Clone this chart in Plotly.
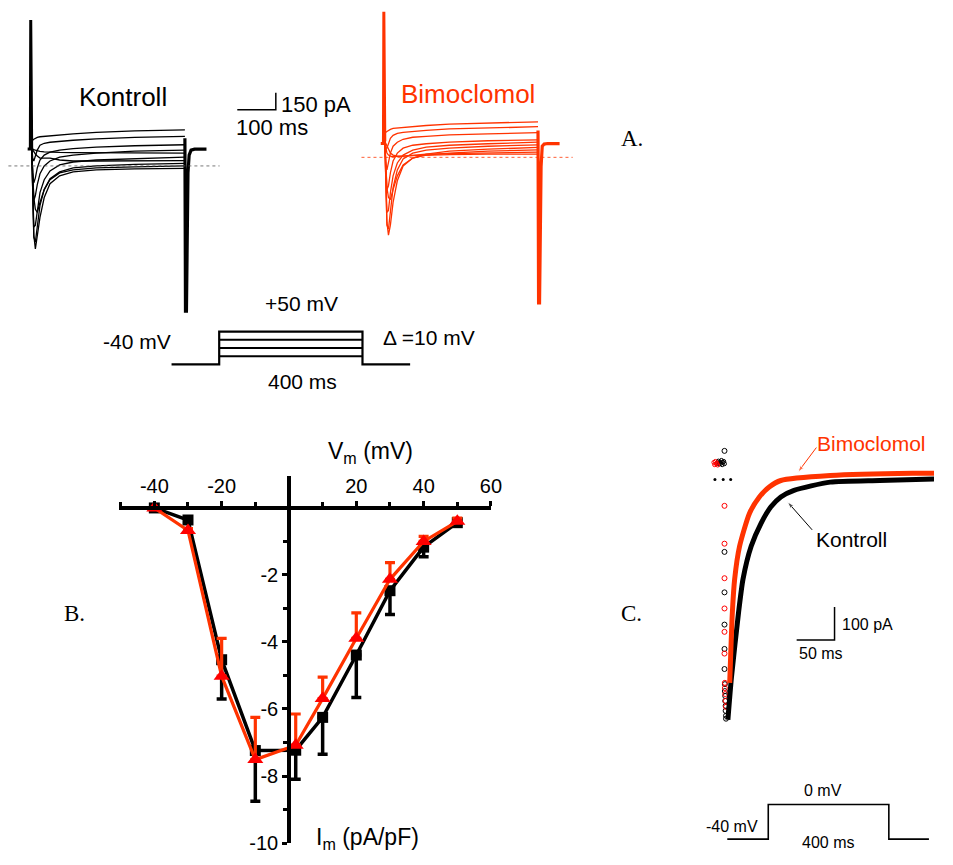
import plotly.graph_objects as go

# page is 953x865; the default body margin (8px) surrounds the figure
PAGE_W, PAGE_H = 953, 865
OFF = 8
W, H = PAGE_W - 2 * OFF, PAGE_H - 2 * OFF

# ---------------- Panel B: I-V relation ----------------
V_mV = [-40, -30, -20, -10, 2, 10, 20, 30, 40, 50]
I_kontroll = [0.0, -0.36, -4.53, -7.24, -7.23, -6.25, -4.39, -2.47, -1.17, -0.44]
I_kontroll_sem = [0.0, 0.05, 1.17, 1.51, 0.87, 1.10, 1.27, 0.71, 0.29, 0.05]
I_bimo = [0.0, -0.67, -5.02, -7.51, -7.08, -5.69, -3.89, -2.13, -1.00, -0.40]
I_bimo_sem = [0.0, 0.05, 1.13, 1.26, 0.93, 0.64, 0.76, 0.50, 0.15, 0.10]
B_xtick_vals = [-40, -20, 20, 40, 60]
B_xtick_text = ["-40", "-20", "20", "40", "60"]
B_xminor_vals = [-50, -30, -10, 0, 10, 30, 50]
B_ytick_vals = [-2, -4, -6, -8, -10]
B_ytick_text = ["-2", "-4", "-6", "-8", "-10"]
B_yminor_vals = [-1, -3, -5, -7, -9]

# ---------------- Panel A: current traces (ms, pA) ----------------
step_mV = [-40, -30, -20, -10, 0, 10, 20, 30, 40, 50]
tA_ms = [2.5, 5, 8, 12, 17, 24, 35, 50, 75, 110, 170, 270, 400]
kontroll_pA = [
    [158, 150, 145, 140, 135, 130, 126, 123, 120, 118, 116, 115, 114],
    [158, 141, 123, 106, 88, 70, 70, 70, 53, 44, 44, 48, 48],
    [158, -106, -282, -387, -414, -326, -211, -123, -62, -35, -18, -9, 0],
    [158, -282, -616, -739, -634, -458, -282, -158, -88, -53, -35, -26, -22],
    [158, -326, -634, -678, -528, -352, -211, -114, -53, -18, 0, 13, 22],
    [158, -282, -546, -528, -387, -238, -123, -44, 9, 35, 53, 66, 79],
    [158, -150, -308, -264, -167, -70, 0, 44, 79, 97, 114, 132, 141],
    [176, -62, -150, -106, -18, 53, 97, 123, 141, 154, 167, 180, 189],
    [202, 70, 44, 88, 141, 185, 202, 211, 220, 229, 242, 255, 264],
    [246, 229, 238, 246, 255, 260, 264, 268, 277, 286, 299, 312, 321],
]
bimo_pA = [
    [143, 82, 38, 20, 11, 7, 7, 11, 16, 20, 25, 29, 29],
    [143, 126, 99, 64, 38, 20, 11, 11, 20, 29, 33, 38, 47],
    [143, -94, -270, -358, -376, -288, -165, -68, -6, 20, 38, 55, 67],
    [143, -270, -578, -693, -605, -402, -209, -77, -6, 29, 55, 73, 88],
    [143, -314, -605, -640, -464, -270, -112, -15, 38, 64, 82, 99, 111],
    [143, -270, -490, -473, -314, -165, -50, 20, 64, 91, 108, 121, 135],
    [152, -138, -288, -253, -138, -33, 38, 82, 108, 121, 135, 148, 155],
    [170, -50, -112, -50, 38, 99, 135, 161, 179, 187, 201, 209, 220],
    [187, 82, 82, 126, 170, 196, 214, 223, 231, 240, 253, 262, 273],
    [240, 223, 231, 240, 249, 258, 262, 267, 275, 284, 297, 306, 317],
]
spike_t_ms = [-8, -1, 0, 0.8, 1.6, 2.5]
kontroll_spike_pA = [150, 150, 1302, 700, 300, 158]
bimo_spike_pA = [123, 123, 1299, 700, 300, 143]
tail_t_ms = [400, 401.5, 404, 406, 408, 411, 416, 425, 456]
kontroll_tail_pA = [246, -1294, -1294, -546, -62, 97, 141, 150, 150]
bimo_tail_pA = [240, -1297, -1297, -560, -80, 100, 118, 123, 123]
zeroA_t_ms = [-58, 490]
zero_pA = [0, 0]
scaleA_ms, scaleA_pA = 100, 150

# voltage protocol A (schematic)
protoA_t = [-133, 0, 0, 400, 400, 533]
protoA_mV = [-40, -40, 50, 50, -40, -40]
protoA_inner_mV = [-17.5, 5, 27.5]

# ---------------- Panel C: normalised traces ----------------
tC_kontroll = [4.5, 9.1, 18.6, 24.4, 35.2, 48.2, 61.3, 74.3, 91.7, 139.5, 204.7, 287]
IC_kontroll = [-730, -603, -403, -303, -203, -133, -83, -53, -33, -8, -3, 2]
tC_bimo = [6.9, 10.4, 13.4, 19.9, 32.9, 46, 59, 74.3, 139.5, 248, 287]
IC_bimo = [-618, -403, -303, -203, -103, -53, -23, -3, 12, 19, 19]
k_open_t = [0, 0, 0, 0, 0, 0, 0.5, 0.5, 1, 1, 1.5, 1.5, 2, 2]
k_open_I = [87, -220, -343, -441, -515, -576, -622, -643, -658, -673, -688, -703, -718, -727]
b_open_t = [0, 0, 0, 0, 0, 0, 0.5, 0.5, 1, 1.5, 2]
b_open_I = [-80, -195, -300, -392, -463, -529, -618, -634, -652, -673, -691]
k_pre_t = [-9, -8, -7, -6, -5, -4, -3, -2, -1, 0]
k_pre_I = [50, 56, 47, 53, 49, 58, 45, 52, 55, 48]
b_pre_t = [-14, -13, -12, -11, -10, -9]
b_pre_I = [52, 45, 55, 48, 50, 44]
zeroC_t = [-12.6, -1.7, 8.2]
zeroC_I = [0, 0, 0]
scaleC_ms, scaleC_pA = 50, 100
protoC_t = [-136, 0, 0, 400, 400, 533]
protoC_mV = [-40, -40, 0, 0, -40, -40]

BLACK = "#000000"
RED_LINE = "#FF3300"
RED_MARK = "#FF0000"
SANS = "Liberation Sans, Arial, sans-serif"
SERIF = "Liberation Serif, Times New Roman, serif"


# page-pixel -> paper helpers
def px(x):
    return (x - OFF) / W


def py(y):
    return 1 - (y - OFF) / H


def cx(a):
    return min(max(a, OFF), OFF + W)


def cy(a):
    return min(max(a, OFF), OFF + H)


def xaxis_box(a, b, origin, ppu):
    a, b = cx(a), cx(b)
    return dict(domain=[px(a), px(b)], range=[(a - origin) / ppu, (b - origin) / ppu])


def yaxis_box(top, bottom, origin, ppu):
    top, bottom = cy(top), cy(bottom)
    return dict(domain=[py(bottom), py(top)],
                range=[(origin - bottom) / ppu, (origin - top) / ppu])


# panel C pixel -> data helpers (for label arrows only)
def c_t(xp):
    return (xp - 733) / 0.767


def c_i(yp):
    return (485.7 - yp) * 3


fig = go.Figure()

# ---- Panel A black (axes 2)
for i, v in enumerate(step_mV):
    fig.add_trace(go.Scatter(x=tA_ms, y=kontroll_pA[i], mode="lines",
                             line=dict(color=BLACK, width=1.3), xaxis="x2", yaxis="y2"))
fig.add_trace(go.Scatter(x=spike_t_ms, y=kontroll_spike_pA, mode="lines",
                         line=dict(color=BLACK, width=3), xaxis="x2", yaxis="y2"))
fig.add_trace(go.Scatter(x=tail_t_ms, y=kontroll_tail_pA, mode="lines",
                         line=dict(color=BLACK, width=3.2), xaxis="x2", yaxis="y2"))
fig.add_trace(go.Scatter(x=zeroA_t_ms, y=zero_pA, mode="lines",
                         line=dict(color="#555555", width=0.8, dash="dot"), xaxis="x2", yaxis="y2"))
# scale bar A
sbx0 = 535.9
sby0 = 501.6
fig.add_trace(go.Scatter(x=[sbx0, sbx0 + scaleA_ms, sbx0 + scaleA_ms],
                         y=[sby0, sby0, sby0 + scaleA_pA], mode="lines",
                         line=dict(color=BLACK, width=1.5), xaxis="x2", yaxis="y2"))

# ---- Panel A red (axes 3)
for i, v in enumerate(step_mV):
    fig.add_trace(go.Scatter(x=tA_ms, y=bimo_pA[i], mode="lines",
                             line=dict(color=RED_LINE, width=1.3), xaxis="x3", yaxis="y3"))
fig.add_trace(go.Scatter(x=spike_t_ms, y=bimo_spike_pA, mode="lines",
                         line=dict(color=RED_LINE, width=3), xaxis="x3", yaxis="y3"))
fig.add_trace(go.Scatter(x=tail_t_ms, y=bimo_tail_pA, mode="lines",
                         line=dict(color=RED_LINE, width=3.2), xaxis="x3", yaxis="y3"))
fig.add_trace(go.Scatter(x=zeroA_t_ms, y=zero_pA, mode="lines",
                         line=dict(color=RED_LINE, width=0.8, dash="dot"), xaxis="x3", yaxis="y3"))

# ---- Protocol A (axes 4)
fig.add_trace(go.Scatter(x=protoA_t, y=protoA_mV, mode="lines",
                         line=dict(color=BLACK, width=2.2), xaxis="x4", yaxis="y4"))
for lv in protoA_inner_mV:
    fig.add_trace(go.Scatter(x=[0, 400], y=[lv, lv], mode="lines",
                             line=dict(color=BLACK, width=2), xaxis="x4", yaxis="y4"))

# ---- Panel B (axes 1)
fig.add_trace(go.Scatter(
    x=V_mV, y=I_kontroll, mode="lines+markers", cliponaxis=False,
    line=dict(color=BLACK, width=3.5),
    marker=dict(symbol="square", size=11, color=BLACK),
    error_y=dict(type="data", symmetric=False, array=[0] * len(V_mV),
                 arrayminus=I_kontroll_sem, color=BLACK, thickness=3.5, width=5)))
fig.add_trace(go.Scatter(
    x=V_mV, y=I_bimo, mode="lines+markers", cliponaxis=False,
    line=dict(color=RED_LINE, width=3.2),
    marker=dict(symbol="triangle-up", size=14, color=RED_MARK),
    error_y=dict(type="data", symmetric=False, array=I_bimo_sem,
                 arrayminus=[0] * len(V_mV), color=RED_LINE, thickness=3.2, width=5)))

# ---- Panel C (axes 5)
fig.add_trace(go.Scatter(x=k_pre_t, y=k_pre_I, mode="markers",
                         marker=dict(symbol="circle-open", size=4, color=BLACK, line=dict(width=1)),
                         xaxis="x5", yaxis="y5"))
fig.add_trace(go.Scatter(x=b_pre_t, y=b_pre_I, mode="markers",
                         marker=dict(symbol="circle-open", size=4, color=RED_MARK, line=dict(width=1)),
                         xaxis="x5", yaxis="y5"))
fig.add_trace(go.Scatter(x=zeroC_t, y=zeroC_I, mode="markers",
                         marker=dict(symbol="circle", size=3, color=BLACK),
                         xaxis="x5", yaxis="y5"))
fig.add_trace(go.Scatter(x=k_open_t, y=k_open_I, mode="markers",
                         marker=dict(symbol="circle-open", size=5, color=BLACK, line=dict(width=1)),
                         xaxis="x5", yaxis="y5"))
fig.add_trace(go.Scatter(x=b_open_t, y=b_open_I, mode="markers",
                         marker=dict(symbol="circle-open", size=5, color=RED_MARK, line=dict(width=1)),
                         xaxis="x5", yaxis="y5"))
fig.add_trace(go.Scatter(x=tC_kontroll, y=IC_kontroll, mode="lines",
                         line=dict(color=BLACK, width=5, shape="spline", smoothing=0.6),
                         xaxis="x5", yaxis="y5"))
fig.add_trace(go.Scatter(x=tC_bimo, y=IC_bimo, mode="lines",
                         line=dict(color=RED_LINE, width=5, shape="spline", smoothing=0.6),
                         xaxis="x5", yaxis="y5"))
scx0 = 95.2
scy0 = -487.8
fig.add_trace(go.Scatter(x=[scx0, scx0 + scaleC_ms, scx0 + scaleC_ms],
                         y=[scy0, scy0, scy0 + scaleC_pA], mode="lines",
                         line=dict(color=BLACK, width=1.5), xaxis="x5", yaxis="y5"))
# label arrows (tail -> head)
for (x0, y0, x1, y1, col) in [(826, 453.3, 807.3, 478.3, RED_LINE),
                               (821.7, 536.7, 796.7, 508.3, BLACK)]:
    fig.add_trace(go.Scatter(x=[c_t(x0), c_t(x1)], y=[c_i(y0), c_i(y1)],
                             mode="lines+markers", line=dict(color=col, width=1),
                             marker=dict(symbol=["circle", "arrow"], size=[0, 7],
                                         angleref="previous", color=col),
                             xaxis="x5", yaxis="y5"))

# ---- Protocol C (axes 6)
fig.add_trace(go.Scatter(x=protoC_t, y=protoC_mV, mode="lines",
                         line=dict(color=BLACK, width=1.6), xaxis="x6", yaxis="y6"))

hidden = dict(visible=False, showgrid=False, zeroline=False)

fig.update_layout(
    width=W, height=H, autosize=False, margin=dict(l=0, r=0, t=0, b=0, pad=0),
    paper_bgcolor="white", plot_bgcolor="white", showlegend=False,
    font=dict(family=SANS, color=BLACK),
    xaxis=dict(domain=[px(120.3), px(496.7)], range=[-50.5, 60], anchor="free",
               position=py(514.5), side="top", showline=True, linewidth=3.5,
               linecolor=BLACK, ticks="outside", ticklen=5, tickwidth=2.5,
               tickcolor=BLACK, tickvals=B_xtick_vals, ticktext=B_xtick_text,
               tickfont=dict(size=20), showgrid=False, zeroline=False,
               ticklabeloverflow="allow",
               minor=dict(tickvals=B_xminor_vals, ticks="outside", ticklen=4,
                          tickwidth=2.5, tickcolor=BLACK, showgrid=False)),
    yaxis=dict(domain=[py(854), py(481.7)], range=[-10, 0.966], anchor="free",
               position=px(292.3), showline=True, linewidth=3.5, linecolor=BLACK,
               ticks="outside", ticklen=5, tickwidth=2.5, tickcolor=BLACK,
               tickvals=B_ytick_vals, ticktext=B_ytick_text,
               tickfont=dict(size=20), showgrid=False, zeroline=False,
               ticklabeloverflow="allow",
               minor=dict(tickvals=B_yminor_vals, ticks="outside", ticklen=4,
                          tickwidth=2.5, tickcolor=BLACK, showgrid=False)),
    xaxis2=dict(hidden, anchor="y2", **xaxis_box(0, 360, 31, 0.39)),
    yaxis2=dict(hidden, anchor="x2", **yaxis_box(0, 335, 168, 1 / 8.8)),
    xaxis3=dict(hidden, anchor="y3", **xaxis_box(340, 620, 388.3, 0.39)),
    yaxis3=dict(hidden, anchor="x3", **yaxis_box(0, 335, 159.3, 1 / 8.8)),
    xaxis4=dict(hidden, anchor="y4", **xaxis_box(160, 430, 221.7, 0.3625)),
    yaxis4=dict(hidden, anchor="x4", **yaxis_box(320, 380, 354.3, 0.3667)),
    xaxis5=dict(hidden, anchor="y5", **xaxis_box(700, 953, 733, 0.767)),
    yaxis5=dict(hidden, anchor="x5", **yaxis_box(440, 740, 485.7, 1 / 3)),
    xaxis6=dict(hidden, anchor="y6", **xaxis_box(700, 953, 777.3, 0.305)),
    yaxis6=dict(hidden, anchor="x6", **yaxis_box(790, 865, 815, 0.875)),
)


def ann(text, x, y, size, color=BLACK, xanchor="center", family=SANS):
    fig.add_annotation(text=text, x=px(x), y=py(y), xref="paper", yref="paper",
                       showarrow=False, xanchor=xanchor, yanchor="middle",
                       font=dict(size=size, color=color, family=family))


ann("Kontroll", 124, 98, 26)
ann("Bimoclomol", 473, 95, 26, color=RED_LINE)
ann("150 pA", 282, 106, 22, xanchor="left")
ann("100 ms", 237, 129, 22, xanchor="left")
ann("A.", 626, 140, 23, xanchor="left", family=SERIF)
ann("+50 mV", 305, 307, 21)
ann("-40 mV", 139, 346, 21)
ann("Δ =10 mV", 385, 342, 21, xanchor="left")
ann("400 ms", 306, 386, 21)
ann("V<sub>m</sub> (mV)", 375, 458, 23)
ann("I<sub>m</sub> (pA/pF)", 372, 849, 23)
ann("B.", 63, 621, 23, xanchor="left", family=SERIF)
ann("C.", 626, 621, 23, xanchor="left", family=SERIF)
ann("Bimoclomol", 882, 449, 21, color=RED_LINE)
ann("Kontroll", 862, 546, 21)
ann("100 pA", 850, 633, 16, xanchor="left")
ann("50 ms", 806, 662, 16, xanchor="left")
ann("0 mV", 833, 801, 16)
ann("-40 mV", 741, 837, 16)
ann("400 ms", 838, 853, 16)

fig.write_html(
    "out.html",
    config={"displayModeBar": False, "responsive": False},
    post_script=("document.querySelectorAll('svg.main-svg').forEach("
                 "function(s){s.style.overflow='visible';});"),
)
